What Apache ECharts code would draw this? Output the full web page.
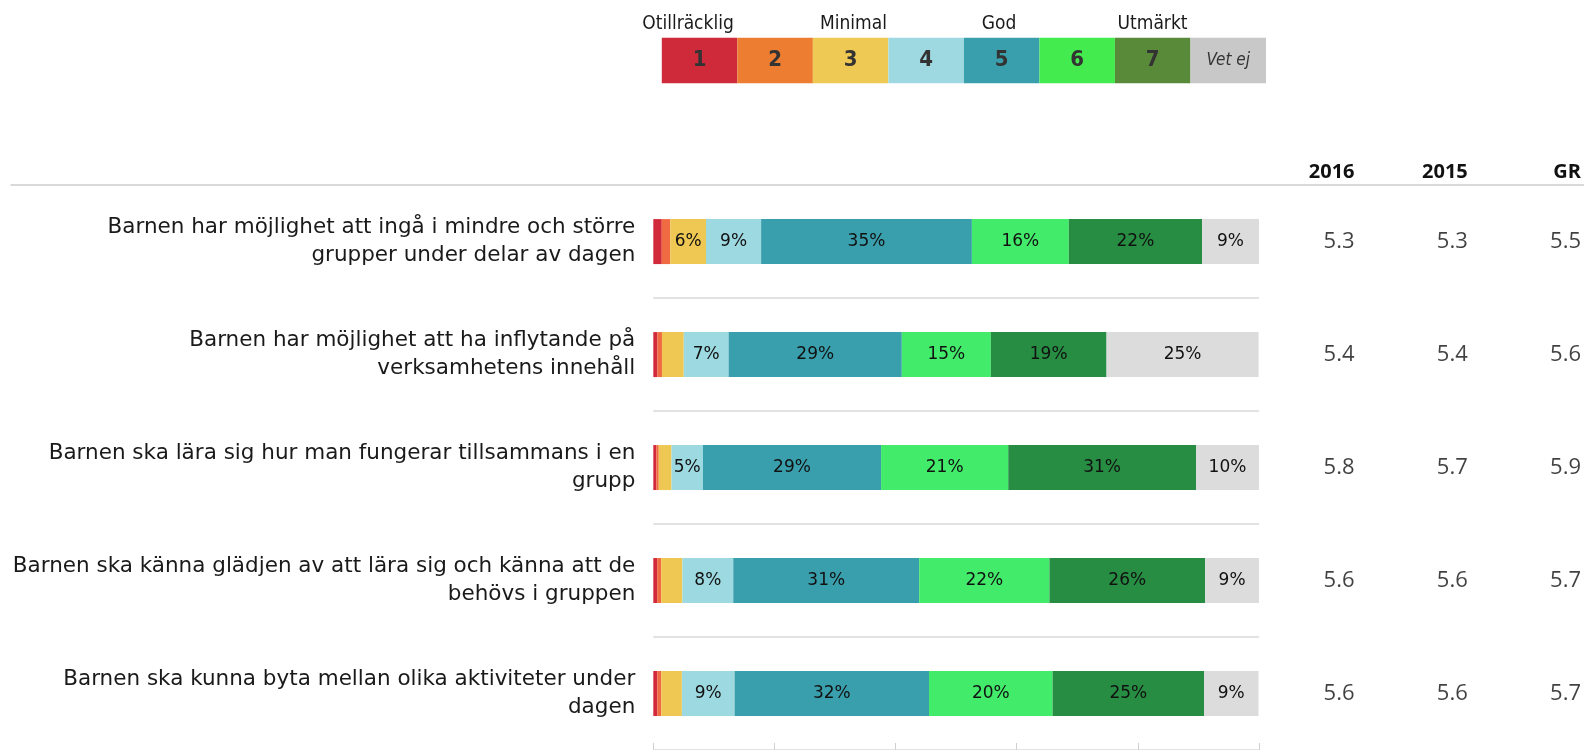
<!DOCTYPE html>
<html>
<head>
<meta charset="utf-8">
<script src="https://cdn.jsdelivr.net/npm/echarts@6/dist/echarts.min.js"></script>
<style>
  html, body { margin: 0; padding: 0; background: #fff; }
  #chart { width: 1584px; height: 750px; }
</style>
</head>
<body>
<div id="chart"></div>
<script>
const rowLabels = [
  'Barnen har möjlighet att ingå i mindre och större\ngrupper under delar av dagen',
  'Barnen har möjlighet att ha inflytande på\nverksamhetens innehåll',
  'Barnen ska lära sig hur man fungerar tillsammans i en\ngrupp',
  'Barnen ska känna glädjen av att lära sig och känna att de\nbehövs i gruppen',
  'Barnen ska kunna byta mellan olika aktiviteter under\ndagen'
];

// share of answers per grade (%), one value per row
const grade1 = [1.4, 0.66, 0.5, 0.64, 0.66];
const grade2 = [1.4, 0.77, 0.4, 0.66, 0.66];
const grade3 = [5.9, 3.6, 2.1, 3.5, 3.4];
const grade4 = [9.1, 7.4, 5.2, 8.4, 8.7];
const grade5 = [34.8, 28.6, 29.4, 30.7, 32.1];
const grade6 = [16.0, 14.7, 21.0, 21.5, 20.4];
const grade7 = [22.0, 19.1, 31.0, 25.7, 25.0];
const vetEj = [9.4, 25.1, 10.4, 8.9, 9.0];

const tableHeaders = ['2016', '2015', 'GR'];
const avg2016 = [5.3, 5.4, 5.8, 5.6, 5.6];
const avg2015 = [5.3, 5.4, 5.7, 5.6, 5.6];
const avgGR = [5.5, 5.6, 5.9, 5.7, 5.7];

const legendKeys = ['1', '2', '3', '4', '5', '6', '7', 'Vet ej'];
const scaleNames = ['Otillräcklig', 'Minimal', 'God', 'Utmärkt'];

const barColors = ['#D12A3A', '#F06B42', '#EEC853', '#9DD9E0', '#3A9FAD', '#43EB6B', '#278D42', '#DCDCDC'];
const legendColors = ['#CE2A39', '#ED7D31', '#EEC954', '#9ED9E1', '#3A9FAD', '#43EB4F', '#598A3A', '#C8C8C8'];

const FONT = "'Open Sans', 'Noto Sans', sans-serif";
const WIDE = "'DejaVu Sans', 'Open Sans', sans-serif";
const NARROW = "'Liberation Sans Narrow', 'DejaVu Sans Condensed', 'Roboto Condensed', sans-serif";

const gradeSeries = [grade1, grade2, grade3, grade4, grade5, grade6, grade7, vetEj];

const barSeries = gradeSeries.map((vals, i) => ({
  type: 'bar',
  name: legendKeys[i],
  stack: 'share',
  xAxisIndex: 0,
  yAxisIndex: 0,
  data: vals,
  barWidth: 45,
  itemStyle: { color: barColors[i] },
  label: {
    show: true,
    position: 'inside',
    fontFamily: WIDE,
    fontSize: 17,
    color: '#111',
    formatter: p => (p.value >= 4.5 ? Math.round(p.value) + '%' : '')
  },
  silent: true
}));

// legend key drawn as one stacked bar of equal parts
const legendSeries = legendKeys.map((k, i) => ({
  type: 'bar',
  stack: 'key',
  xAxisIndex: 1,
  yAxisIndex: 1,
  data: [1],
  barWidth: '100%',
  itemStyle: { color: legendColors[i] },
  label: {
    show: true,
    position: 'inside',
    formatter: k,
    fontFamily: NARROW,
    fontSize: i === 7 ? 17 : 22,
    fontWeight: i === 7 ? 'normal' : 'bold',
    fontStyle: i === 7 ? 'italic' : 'normal',
    color: '#333'
  },
  silent: true
}));

const tableData = [];
[avg2016, avg2015, avgGR].forEach((col, c) => {
  col.forEach((v, r) => tableData.push([c, r, v]));
});

const tableSeries = {
  type: 'scatter',
  xAxisIndex: 2,
  yAxisIndex: 2,
  symbolSize: 0,
  data: tableData,
  label: {
    show: true,
    position: 'left',
    distance: 0,
    fontFamily: FONT,
    fontSize: 22,
    color: '#111',
    formatter: p => p.data[2].toFixed(1)
  },
  silent: true
};

const chart = echarts.init(document.getElementById('chart'), null, { renderer: 'canvas' });

chart.setOption({
  animation: false,
  backgroundColor: '#fff',
  grid: [
    { left: 653.3, top: 185.1, width: 605.7, height: 566.7 },
    { left: 661.8, top: 37.7, width: 604.2, height: 45.6 },
    { left: 1354.5, top: 185.1, width: 227, height: 566.7 }
  ],
  xAxis: [
    {
      gridIndex: 0, type: 'value', min: 0, max: 100, interval: 20,
      axisLine: { show: false },
      axisTick: { show: true, inside: true, length: 7, lineStyle: { color: '#d0d0d0' } },
      axisLabel: { show: false },
      splitLine: { show: false }
    },
    {
      gridIndex: 1, type: 'value', min: 0, max: legendKeys.length, show: false
    },
    {
      gridIndex: 2, type: 'category', data: tableHeaders, position: 'top', boundaryGap: false,
      axisLine: { show: false }, axisTick: { show: false }, splitLine: { show: false },
      axisLabel: {
        fontFamily: FONT, fontSize: 20, fontWeight: 'bold', color: '#111',
        align: 'right', margin: 3
      }
    }
  ],
  yAxis: [
    {
      gridIndex: 0, type: 'category', data: rowLabels, inverse: true,
      axisLine: { show: false }, axisTick: { show: false },
      splitLine: { show: true, lineStyle: { color: '#d9d9d9', width: 1.5 } },
      axisLabel: {
        fontFamily: WIDE, fontSize: 21.5, lineHeight: 28, color: '#1a1a1a',
        align: 'right', margin: 18
      }
    },
    { gridIndex: 1, type: 'category', data: ['key'], show: false },
    { gridIndex: 2, type: 'category', data: rowLabels, inverse: true, show: false }
  ],
  graphic: [
    {
      type: 'line',
      shape: { x1: 10.5, y1: 185, x2: 1584, y2: 185 },
      style: { stroke: '#d9d9d9', lineWidth: 2 },
      silent: true
    },
    ...scaleNames.map((name, i) => ({
      type: 'text',
      x: [688, 853.5, 999, 1152.5][i],
      y: 24,
      style: {
        text: name, fontFamily: NARROW, fontSize: 19, fill: '#1a1a1a',
        align: 'center', verticalAlign: 'middle'
      },
      silent: true
    }))
  ],
  series: [...barSeries, ...legendSeries, tableSeries]
});
</script>
</body>
</html>
